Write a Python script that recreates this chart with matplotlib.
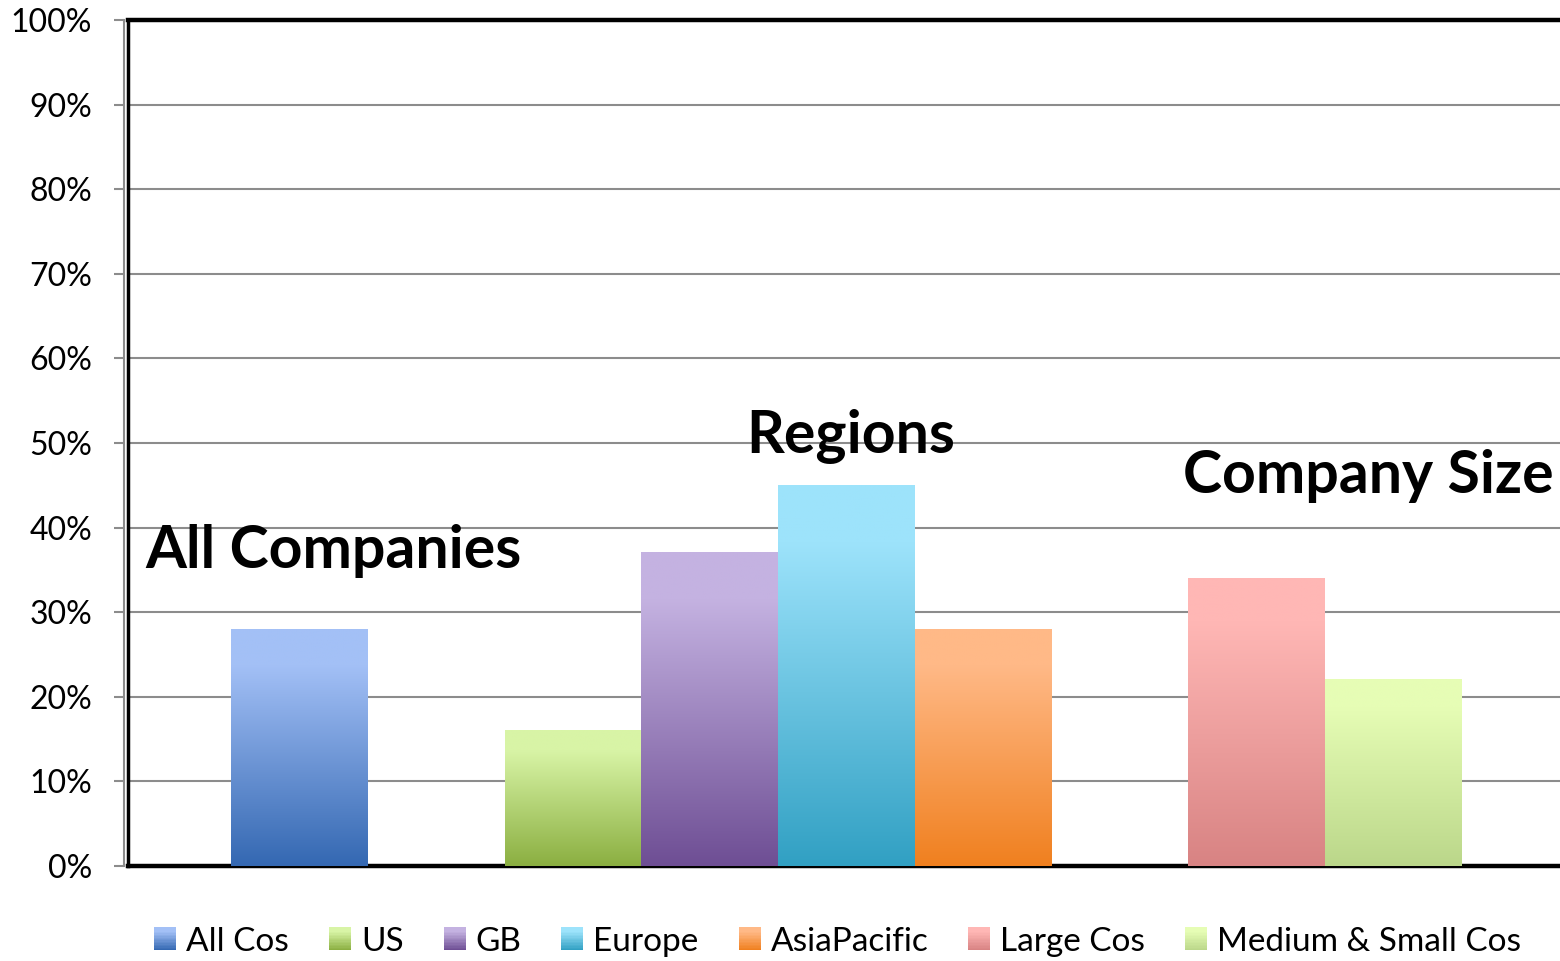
import numpy as np
import matplotlib
matplotlib.use("Agg")
import matplotlib.pyplot as plt
from matplotlib.colors import to_rgb
from matplotlib.patches import Rectangle
from matplotlib.legend_handler import HandlerBase
from matplotlib.ticker import FuncFormatter

plt.rcParams['font.family'] = ['Lato', 'DejaVu Sans']

# survey share by group
categories = ['All Cos', 'US', 'GB', 'Europe', 'AsiaPacific', 'Large Cos', 'Medium & Small Cos']
values = [28, 16, 37, 45, 28, 34, 22]
positions = [0, 2, 3, 4, 5, 7, 8]
top_colors = ['#a3c0f6', '#d8f4a6', '#c4b2e1', '#9de3fb', '#ffb987', '#ffb7b5', '#e6fdb5']
bottom_colors = ['#3468b2', '#8baf41', '#6e4e94', '#31a0c3', '#f0801f', '#d88383', '#bbd78a']

group_labels = ['All Companies', 'Regions', 'Company Size']
group_label_pos = [(-1.13, 37.2), (3.27, 50.8), (6.46, 46.1)]


def shade(top, bottom, t):
    # t = 0 at the bar foot, 1 at the top; light band holds over the upper part
    t = np.clip(t / 0.85, 0, 1)
    a, b = np.array(to_rgb(top)), np.array(to_rgb(bottom))
    return b + (a - b) * t[..., None]


class GradSwatch(Rectangle):
    def __init__(self, top, bottom):
        super().__init__((0, 0), 1, 1)
        self.top_c, self.bottom_c = top, bottom


class GradHandler(HandlerBase):
    def create_artists(self, legend, orig, xdescent, ydescent, width, height, fontsize, trans):
        n = 16
        out = []
        cols = shade(orig.top_c, orig.bottom_c, np.linspace(0, 1, n))
        for i in range(n):
            r = Rectangle((-xdescent, -ydescent + i * height / n), width, height / n + 0.3,
                          facecolor=cols[i], edgecolor='none', transform=trans)
            out.append(r)
        return out


fig = plt.figure(figsize=(15.6, 9.61), dpi=100)
ax = fig.add_axes([0.0821, 0.0989, 0.9185, 0.8803])

xlim = (-1.255, 9.227)

ax.set_yticks(np.arange(0, 101, 10))
ax.yaxis.set_major_formatter(FuncFormatter(lambda v, p: f'{v:.0f}%'))
ax.tick_params(axis='y', labelsize=23, length=7, width=1.5, color='#8c8c8c', pad=16)
ax.set_xticks([])
ax.grid(axis='y', color='#8c8c8c', lw=1.5, zorder=0)
ax.set_axisbelow(True)

ax.spines['right'].set_visible(False)
ax.spines['top'].set_linewidth(3.2)
ax.spines['bottom'].set_linewidth(3.2)
ax.spines['left'].set_color('#8c8c8c')
ax.spines['left'].set_linewidth(1.5)
ax.spines['left'].set_position(('outward', 3))
ax.axvline(xlim[0], color='black', lw=2.5, zorder=5, clip_on=False)

ramp = np.linspace(1, 0, 256)
for x, v, tc, bc in zip(positions, values, top_colors, bottom_colors):
    img = shade(tc, bc, ramp)[:, None, :]
    ax.imshow(img, extent=(x - 0.5, x + 0.5, 0, v), aspect='auto',
              interpolation='bilinear', zorder=3)
ax.set_xlim(*xlim)
ax.set_ylim(0, 100)

for lab, (lx, ly) in zip(group_labels, group_label_pos):
    ax.text(lx, ly, lab, fontsize=42.5, fontweight='bold', va='center', ha='left', zorder=6)

handles = [GradSwatch(t, b) for t, b in zip(top_colors, bottom_colors)]
fig.legend(handles, categories, handler_map={GradSwatch: GradHandler()},
           loc='center', bbox_to_anchor=(0.537, 0.02), ncol=7, frameon=False,
           fontsize=24, handlelength=0.66, handleheight=0.66, handletextpad=0.3,
           columnspacing=1.2)

fig.savefig('out.png', dpi=100)
